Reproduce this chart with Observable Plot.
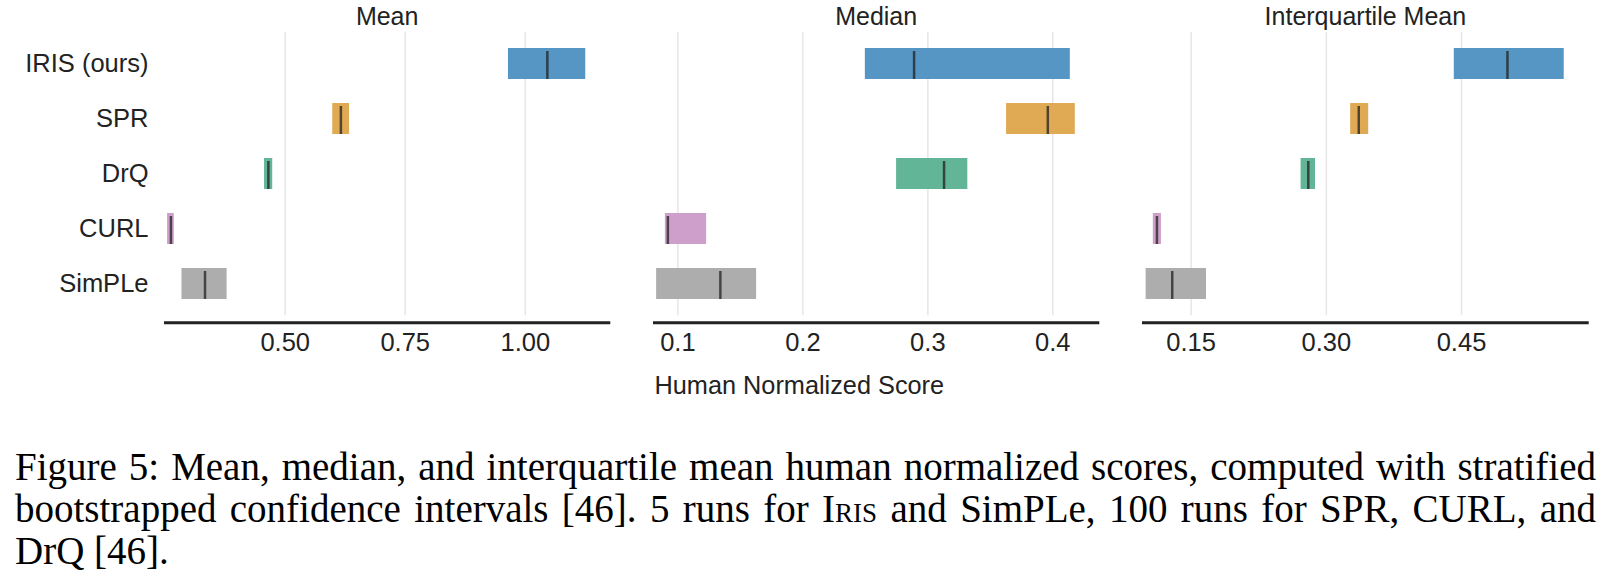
<!DOCTYPE html>
<html>
<head>
<meta charset="utf-8">
<script src="https://cdn.jsdelivr.net/npm/d3@7"></script>
<script src="https://cdn.jsdelivr.net/npm/@observablehq/plot@0.6"></script>
<style>
  html, body { margin: 0; padding: 0; background: #fff; }
  #root { position: relative; width: 1604px; height: 580px; overflow: hidden; }
  .panel { position: absolute; top: 0; }
  #caption { position: absolute; left: 15px; top: 446px; width: 1581px;
    font-family: "Liberation Serif", "Times New Roman", serif; font-size: 39px; line-height: 42px; color: #000; }
  #caption .j { text-align: justify; text-align-last: justify; }
  .sc { font-variant: small-caps; }
</style>
</head>
<body>
<div id="root"></div>
<script>
// ---- data ----
const methods = ["IRIS (ours)", "SPR", "DrQ", "CURL", "SimPLe"];
const methodColors = ["#5596c5", "#e0aa55", "#63b597", "#cf9fcb", "#adadad"];

const panelTitles = ["Mean", "Median", "Interquartile Mean"];

const meanLow   = [0.965, 0.599, 0.457, 0.255, 0.285];
const meanHigh  = [1.126, 0.634, 0.474, 0.269, 0.379];
const meanPoint = [1.046, 0.616, 0.465, 0.262, 0.333];

const medianLow   = [0.250, 0.363, 0.275, 0.090, 0.083];
const medianHigh  = [0.414, 0.418, 0.332, 0.123, 0.163];
const medianPoint = [0.289, 0.396, 0.313, 0.092, 0.134];

const iqmLow   = [0.442, 0.327, 0.272, 0.108, 0.100];
const iqmHigh  = [0.564, 0.347, 0.288, 0.117, 0.167];
const iqmPoint = [0.501, 0.336, 0.280, 0.112, 0.129];

const meanTicks = [0.5, 0.75, 1.0];
const medianTicks = [0.1, 0.2, 0.3, 0.4];
const iqmTicks = [0.15, 0.30, 0.45];

const meanDomain = [0.2507, 1.174];
const medianDomain = [0.0813, 0.436];
const iqmDomain = [0.0971, 0.5895];

const xLabel = "Human Normalized Score";

// ---- layout ----
const panels = [
  {title: panelTitles[0], low: meanLow, high: meanHigh, point: meanPoint, ticks: meanTicks, fmt: ".2f", domain: meanDomain,
   left: 0, width: 620, marginLeft: 165, marginRight: 11.7, yAxis: true, label: false},
  {title: panelTitles[1], low: medianLow, high: medianHigh, point: medianPoint, ticks: medianTicks, fmt: ".1f", domain: medianDomain,
   left: 620, width: 490, marginLeft: 34, marginRight: 12.7, yAxis: false, label: true},
  {title: panelTitles[2], low: iqmLow, high: iqmHigh, point: iqmPoint, ticks: iqmTicks, fmt: ".2f", domain: iqmDomain,
   left: 1110, width: 494, marginLeft: 33, marginRight: 17.3, yAxis: false, label: false}
];

const root = document.getElementById("root");

for (const p of panels) {
  const rows = methods.map((m, i) => ({method: m, low: p.low[i], high: p.high[i], point: p.point[i]}));
  const marks = [
    Plot.gridX({ticks: p.ticks, stroke: "#e6e6e6", strokeOpacity: 1, strokeWidth: 1.5, insetBottom: 7}),
    Plot.barX(rows, {x1: "low", x2: "high", y: "method", fill: "method"}),
    Plot.tickX(rows, {x: "point", y: "method", stroke: "#222", strokeOpacity: 0.75, strokeWidth: 2.5, insetTop: 3}),
    Plot.frame({anchor: "bottom", stroke: "#222", strokeWidth: 3}),
    Plot.axisX({ticks: p.ticks, tickFormat: d3.format(p.fmt), tickSize: 0, tickPadding: 10, label: null}),
    Plot.text([p.title], {frameAnchor: "top", lineAnchor: "middle", dy: -16, fontSize: 25, fill: "#222"})
  ];
  if (p.yAxis) marks.push(Plot.axisY({tickSize: 0, tickPadding: 17, label: null}));
  if (p.label) marks.push(Plot.text([xLabel], {frameAnchor: "bottom-left", textAnchor: "start", lineAnchor: "middle", dy: 63, fontSize: 25.3, fill: "#222"}));

  const chart = Plot.plot({
    width: p.width,
    height: 400,
    marginTop: 32,
    marginBottom: 77.7,
    marginLeft: p.marginLeft,
    marginRight: p.marginRight,
    x: {domain: p.domain},
    y: {domain: methods, range: [21.7, 325.8], padding: 0.434, axis: p.yAxis ? undefined : null},
    color: {domain: methods, range: methodColors},
    style: {fontFamily: "'Liberation Sans', Arial, sans-serif", fontSize: "25.5px", color: "#222", background: "transparent", overflow: "visible"},
    marks
  });
  chart.classList.add("panel");
  chart.style.left = p.left + "px";
  root.appendChild(chart);
}

const cap = document.createElement("div");
cap.id = "caption";
cap.innerHTML =
  '<div class="j">Figure 5: Mean, median, and interquartile mean human normalized scores, computed with stratified</div>' +
  '<div class="j">bootstrapped confidence intervals [46]. 5 runs for <span class="sc">Iris</span> and SimPLe, 100 runs for SPR, CURL, and</div>' +
  '<div>DrQ [46].</div>';
root.appendChild(cap);
</script>
</body>
</html>
